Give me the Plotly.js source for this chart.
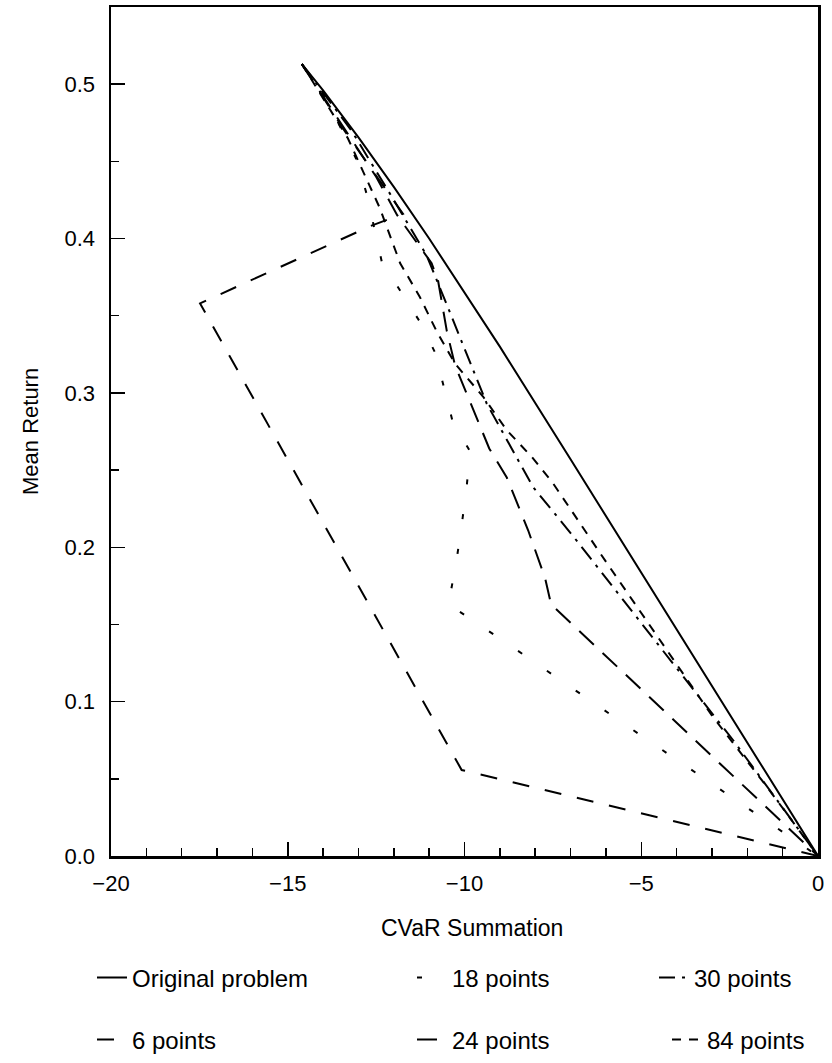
<!DOCTYPE html>
<html>
<head>
<meta charset="utf-8">
<script src="https://cdn.plot.ly/plotly-3.0.1.min.js"></script>
<style>
html,body{margin:0;padding:0;background:#fff;}
#chart{width:832px;height:1063px;}
</style>
</head>
<body>
<div id="chart"></div>
<script>
// ---- data ----
const origX = [-14.6, -14.0, -13.0, -12.0, -11.0, -10.0, -9.0, -7.0, -5.0, -3.0, -1.0, 0];
const origY = [0.513, 0.496, 0.4655, 0.4335, 0.400, 0.365, 0.330, 0.257, 0.1836, 0.110, 0.0367, 0];

const p6X = [-14.6, -13.4, -11.74, -12.67, -17.48, -10.08, 0];
const p6Y = [0.513, 0.47, 0.416, 0.408, 0.358, 0.0557, 0];

const p18X = [-14.6, -13.9, -13.05, -12.77, -12.34, -11.78, -11.26, -10.83, -10.33, -9.84, -9.94, -10.07, -10.21, -10.45, -8.94, -4.81, 0];
const p18Y = [0.513, 0.49, 0.451, 0.429, 0.385, 0.365, 0.346, 0.326, 0.281, 0.262, 0.239, 0.216, 0.194, 0.163, 0.140, 0.075, 0];

const p24X = [-14.6, -13.5, -12.5, -11.9, -10.93, -10.75, -10.5, -10.27, -9.7, -9.3, -8.8, -8.2, -7.72, -7.55, 0];
const p24Y = [0.513, 0.475, 0.44, 0.415, 0.384, 0.373, 0.34, 0.318, 0.286, 0.264, 0.245, 0.211, 0.18, 0.163, 0];

const p30X = [-14.6, -13.2, -12.0, -11.07, -10.41, -9.37, -8.06, -6.92, -2.4, 0];
const p30Y = [0.513, 0.47, 0.425, 0.389, 0.352, 0.293, 0.239, 0.207, 0.075, 0];

const p84X = [-14.6, -13.3, -12.4, -11.82, -11.26, -10.79, -10.27, -9.47, -8.81, -8.1, -7.5, -5.98, -2.97, -1.45, 0];
const p84Y = [0.513, 0.465, 0.42, 0.384, 0.362, 0.34, 0.319, 0.2975, 0.276, 0.2586, 0.2416, 0.19, 0.09, 0.045, 0];

const names = ["Original problem", "18 points", "30 points", "6 points", "24 points", "84 points"];
const xTicks = [-20, -15, -10, -5, 0];
const yTicks = [0, 0.1, 0.2, 0.3, 0.4, 0.5];
const yTickText = ['0.0', '0.1', '0.2', '0.3', '0.4', '0.5'];
const xTitle = 'CVaR Summation';
const yTitle = 'Mean Return';

// ---- styling ----
const FONT = "Arial, 'Liberation Sans', sans-serif";
const W = 832, H = 1063;
function lineTrace(x, y, name, dash, legendId) {
  return {x: x, y: y, name: name, type: 'scatter', mode: 'lines',
          line: {color: '#000', width: 2, dash: dash},
          legend: legendId};
}
const traces = [
  lineTrace(origX, origY, names[0], 'solid', 'legend'),
  lineTrace(p18X, p18Y, names[1], '5px,30px', 'legend2'),
  lineTrace(p30X, p30Y, names[2], '16px,7px,3px,7px', 'legend3'),
  lineTrace(p6X, p6Y, names[3], '17px,16px', 'legend4'),
  lineTrace(p24X, p24Y, names[4], '20px,12px', 'legend5'),
  lineTrace(p84X, p84Y, names[5], '9px,8px', 'legend6')
];

function leg(px, py) {
  return {x: px / W, y: 1 - py / H, xref: 'container', yref: 'container',
          xanchor: 'left', yanchor: 'middle', orientation: 'v',
          bgcolor: 'rgba(0,0,0,0)', borderwidth: 0,
          font: {family: FONT, size: 24, color: '#000'}};
}

const L = 111, R = 14, T = 7, B = 207;
const PW = W - L - R, PH = H - T - B;

const layout = {
  width: W, height: H,
  paper_bgcolor: '#fff', plot_bgcolor: '#fff',
  margin: {l: L, r: R, t: T, b: B, autoexpand: false},
  font: {family: FONT, size: 22, color: '#000'},
  showlegend: true,
  legend: leg(92, 978),
  legend2: leg(412, 978),
  legend3: leg(654, 978),
  legend4: leg(92, 1040),
  legend5: leg(412, 1040),
  legend6: leg(667, 1040),
  xaxis: {
    range: [-20, 0], tickvals: xTicks,
    ticks: 'inside', ticklen: 14, tickwidth: 1.5, tickcolor: '#000',
    minor: {dtick: 1, ticks: 'inside', ticklen: 8, tickwidth: 1.5, tickcolor: '#000', showgrid: false},
    showline: true, linewidth: 2.5, linecolor: '#000', mirror: true,
    showgrid: false, zeroline: false, automargin: false, tickangle: 0,
    ticklabelstandoff: 6,
    tickfont: {family: FONT, size: 22}
  },
  yaxis: {
    range: [0, 0.55], tickvals: yTicks, ticktext: yTickText,
    ticks: 'inside', ticklen: 14, tickwidth: 1.5, tickcolor: '#000',
    minor: {dtick: 0.05, ticks: 'inside', ticklen: 8, tickwidth: 1.5, tickcolor: '#000', showgrid: false},
    showline: true, linewidth: 2.5, linecolor: '#000', mirror: true,
    showgrid: false, zeroline: false, automargin: false,
    ticklabelstandoff: 9,
    tickfont: {family: FONT, size: 22}
  },
  annotations: [
    {text: xTitle, xref: 'paper', yref: 'paper', x: (472 - L) / PW, y: (H - B - 928) / PH,
     xanchor: 'center', yanchor: 'middle', showarrow: false, font: {family: FONT, size: 23}},
    {text: yTitle, xref: 'paper', yref: 'paper', x: (30 - L) / PW, y: (H - B - 432) / PH,
     xanchor: 'center', yanchor: 'middle', textangle: -90, showarrow: false, font: {family: FONT, size: 22}}
  ]
};

Plotly.newPlot('chart', traces, layout, {displayModeBar: false, staticPlot: true});
</script>
</body>
</html>
